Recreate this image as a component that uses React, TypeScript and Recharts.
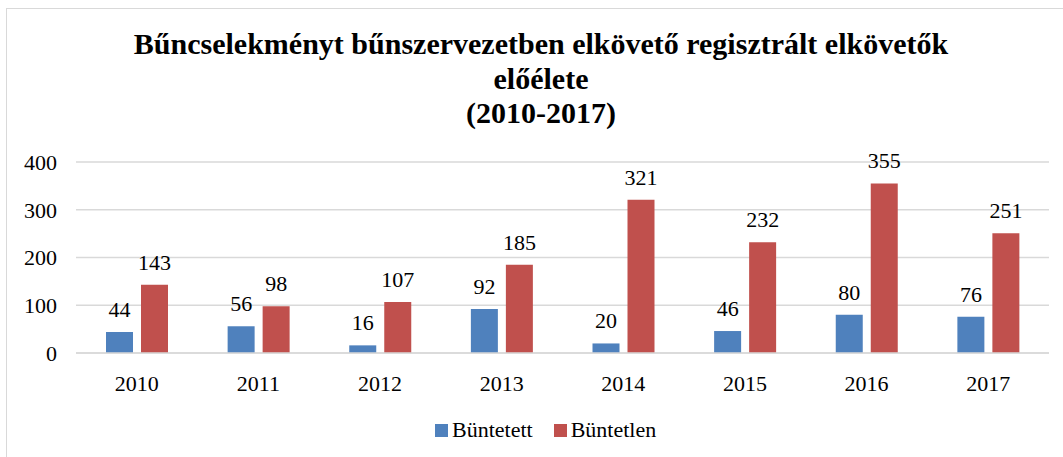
import React from 'react';
import { BarChart, Bar, XAxis, YAxis, CartesianGrid, LabelList } from 'recharts';

const years = ['2010', '2011', '2012', '2013', '2014', '2015', '2016', '2017'];
const buntetett = [44, 56, 16, 92, 20, 46, 80, 76];
const buntetlen = [143, 98, 107, 185, 321, 232, 355, 251];
const yTicks = [0, 100, 200, 300, 400];
const titleLines = [
  'Bűncselekményt bűnszervezetben elkövető regisztrált elkövetők',
  'előélete',
  '(2010-2017)',
];
const seriesNames = ['Büntetett', 'Büntetlen'];
const colors = ['#4f81bd', '#c0504d'];

const data = years.map((y, i) => ({ year: y, a: buntetett[i], b: buntetlen[i] }));

const FONT = '"Liberation Serif", "Times New Roman", serif';

export default function App() {
  return (
    <div style={{ position: 'absolute', left: 0, top: 0, width: 1063, height: 457, overflow: 'hidden', background: '#fff', fontFamily: FONT }}>
      <div style={{ position: 'absolute', left: 6, top: 8, width: 2000, height: 1000, borderTop: '1.5px solid #d9d9d9', borderLeft: '1.5px solid #d9d9d9' }} />
      <div style={{ position: 'absolute', left: 0, top: 27, width: 1082, textAlign: 'center', fontFamily: FONT, fontWeight: 'bold', fontSize: 30, lineHeight: '34.5px', color: '#000' }}>
        {titleLines.map((t) => (
          <div key={t}>{t}</div>
        ))}
      </div>
      <div style={{ position: 'absolute', left: 0, top: 0 }}>
        <BarChart
          width={1063}
          height={457}
          data={data}
          margin={{ top: 162, right: 14, bottom: 74, left: 0 }}
          barGap={8}
          barSize={27}
          style={{ fontFamily: FONT }}
        >
          <CartesianGrid vertical={false} stroke="#d9d9d9" strokeWidth={1.5} />
          <XAxis
            dataKey="year"
            height={30}
            axisLine={{ stroke: '#d9d9d9', strokeWidth: 1.5 }}
            tickLine={false}
            tickSize={0}
            tickMargin={22}
            tick={{ fill: '#000', fontSize: 22, fontFamily: FONT }}
          />
          <YAxis
            width={76}
            domain={[0, 400]}
            ticks={yTicks}
            axisLine={false}
            tickLine={false}
            tickSize={0}
            tickMargin={19}
            tick={{ fill: '#000', fontSize: 22, fontFamily: FONT }}
          />
          <Bar dataKey="a" name={seriesNames[0]} fill={colors[0]} isAnimationActive={false}>
            <LabelList dataKey="a" position="top" offset={15} fill="#000" fontSize={22} fontFamily={FONT} />
          </Bar>
          <Bar dataKey="b" name={seriesNames[1]} fill={colors[1]} isAnimationActive={false}>
            <LabelList dataKey="b" position="top" offset={15} fill="#000" fontSize={22} fontFamily={FONT} />
          </Bar>
        </BarChart>
      </div>
      <div style={{ position: 'absolute', left: 435, top: 417, display: 'flex', fontFamily: FONT, fontSize: 22, lineHeight: '26px', color: '#000' }}>
        {seriesNames.map((n, i) => (
          <div key={n} style={{ display: 'flex', alignItems: 'center', marginRight: i === 0 ? 21 : 0 }}>
            <div style={{ width: 13, height: 13, background: colors[i], marginRight: 4 }} />
            <span style={{ fontFamily: FONT }}>{n}</span>
          </div>
        ))}
      </div>
    </div>
  );
}
